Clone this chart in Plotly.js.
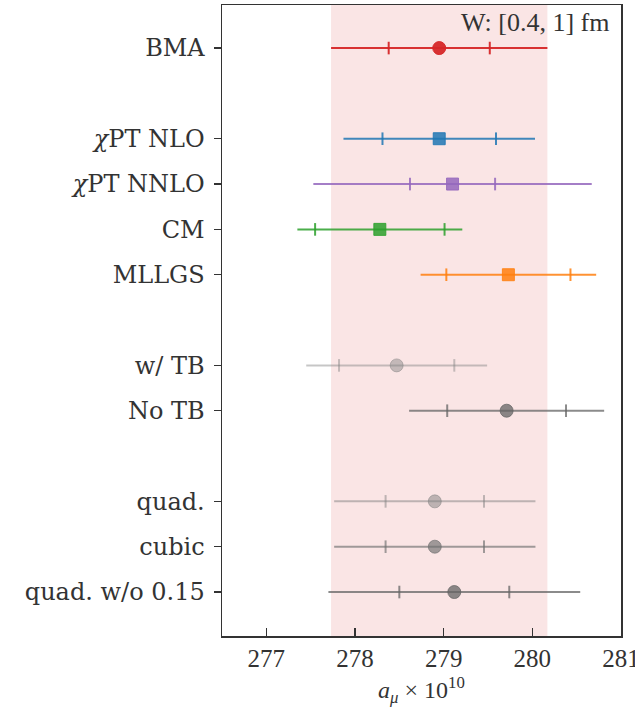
<!DOCTYPE html>
<html>
<head>
<meta charset="utf-8">
<script src="https://cdn.plot.ly/plotly-3.0.1.min.js"></script>
<style>html,body{margin:0;padding:0;background:#fff;}#plot{width:635px;height:707px;}</style>
</head>
<body>
<div id="plot"></div>
<script>
const labels = ['BMA', '<i>χ</i>PT NLO', '<i>χ</i>PT NNLO', 'CM', 'MLLGS', 'w/ TB', 'No TB', 'quad.', 'cubic', 'quad. w/o 0.15'];
const ypos = [0, 2, 3, 4, 5, 7, 8, 10, 11, 12];
const centers = [278.95, 278.95, 279.10, 278.28, 279.73, 278.47, 279.71, 278.90, 278.90, 279.12];
const statErr = [0.57, 0.64, 0.48, 0.73, 0.70, 0.65, 0.67, 0.555, 0.555, 0.62];
const totalErr = [1.22, 1.08, 1.57, 0.93, 0.99, 1.02, 1.10, 1.135, 1.135, 1.42];
const symbols = ['circle', 'square', 'square', 'square', 'square', 'circle', 'circle', 'circle', 'circle', 'circle'];
const colors = ['rgba(214,39,40,0.95)', 'rgba(31,119,180,0.85)', 'rgba(148,103,189,0.85)', 'rgba(44,160,44,0.85)', 'rgba(255,127,14,0.85)',
                'rgba(128,128,128,0.45)', 'rgba(100,100,100,0.75)', 'rgba(128,128,128,0.5)', 'rgba(110,110,110,0.65)', 'rgba(100,100,100,0.75)'];
const bandLabel = 'W: [0.4, 1] fm';
const xTitle = '<i>a</i><sub><i>μ</i></sub> × 10<sup>10</sup>';
const xTicks = [277, 278, 279, 280, 281];

const traces = [];
for (let i = 0; i < labels.length; i++) {
  traces.push({
    type: 'scatter', mode: 'markers',
    x: [centers[i]], y: [ypos[i]],
    marker: {size: 1, color: 'rgba(0,0,0,0)'},
    error_x: {type: 'data', array: [totalErr[i]], color: colors[i], thickness: 2, width: 0},
    hoverinfo: 'skip', showlegend: false
  });
  traces.push({
    type: 'scatter', mode: 'markers',
    x: [centers[i] - statErr[i], centers[i] + statErr[i]], y: [ypos[i], ypos[i]],
    marker: {symbol: 'line-ns-open', size: 9, color: colors[i], line: {color: colors[i], width: 2}},
    hoverinfo: 'skip', showlegend: false
  });
  traces.push({
    type: 'scatter', mode: 'markers',
    x: [centers[i]], y: [ypos[i]],
    marker: {symbol: symbols[i], size: symbols[i] === 'square' ? 12 : 13, color: colors[i], line: {color: colors[i], width: 1}},
    showlegend: false
  });
}

const serifY = {family: 'DejaVu Serif, serif', size: 24, color: '#333'};
const serifX = {family: 'Liberation Serif, serif', size: 25, color: '#333'};
const layout = {
  width: 635, height: 707,
  margin: {l: 222, r: 14, t: 5, b: 71},
  paper_bgcolor: '#fff', plot_bgcolor: '#fff',
  font: serifX,
  showlegend: false,
  xaxis: {
    range: [276.5, 281], tickvals: xTicks, ticktext: xTicks.map(String),
    showgrid: false, zeroline: false, showline: true, mirror: true,
    linecolor: '#333', linewidth: 1.5, ticks: 'inside', ticklen: 8, tickwidth: 1.5, tickcolor: '#333',
    tickfont: serifX, ticklabeloverflow: 'allow', ticklabelstandoff: -1
  },
  yaxis: {
    range: [12.97, -0.95], tickvals: ypos, ticktext: labels,
    showgrid: false, zeroline: false, showline: true, mirror: true,
    linecolor: '#333', linewidth: 1.5, ticks: 'outside', ticklen: 7, tickwidth: 1.5, tickcolor: '#333',
    tickfont: serifY, ticklabelstandoff: 4
  },
  shapes: [{
    type: 'rect', xref: 'x', yref: 'paper',
    x0: centers[0] - totalErr[0], x1: centers[0] + totalErr[0], y0: 0, y1: 1,
    fillcolor: 'rgba(214,39,40,0.12)', line: {width: 0}, layer: 'below'
  }],
  annotations: [{
    text: bandLabel, xref: 'paper', yref: 'paper', x: 0.978, y: 0.998,
    xanchor: 'right', yanchor: 'top', showarrow: false,
    font: {family: 'Liberation Serif, serif', size: 26, color: '#333'}
  }, {
    text: xTitle, xref: 'paper', yref: 'paper', x: 0.5, y: -0.085,
    xanchor: 'center', yanchor: 'middle', showarrow: false,
    font: {family: 'Liberation Serif, serif', size: 24, color: '#333'}
  }]
};
Plotly.newPlot('plot', traces, layout, {displayModeBar: false, staticPlot: true});
</script>
</body>
</html>
